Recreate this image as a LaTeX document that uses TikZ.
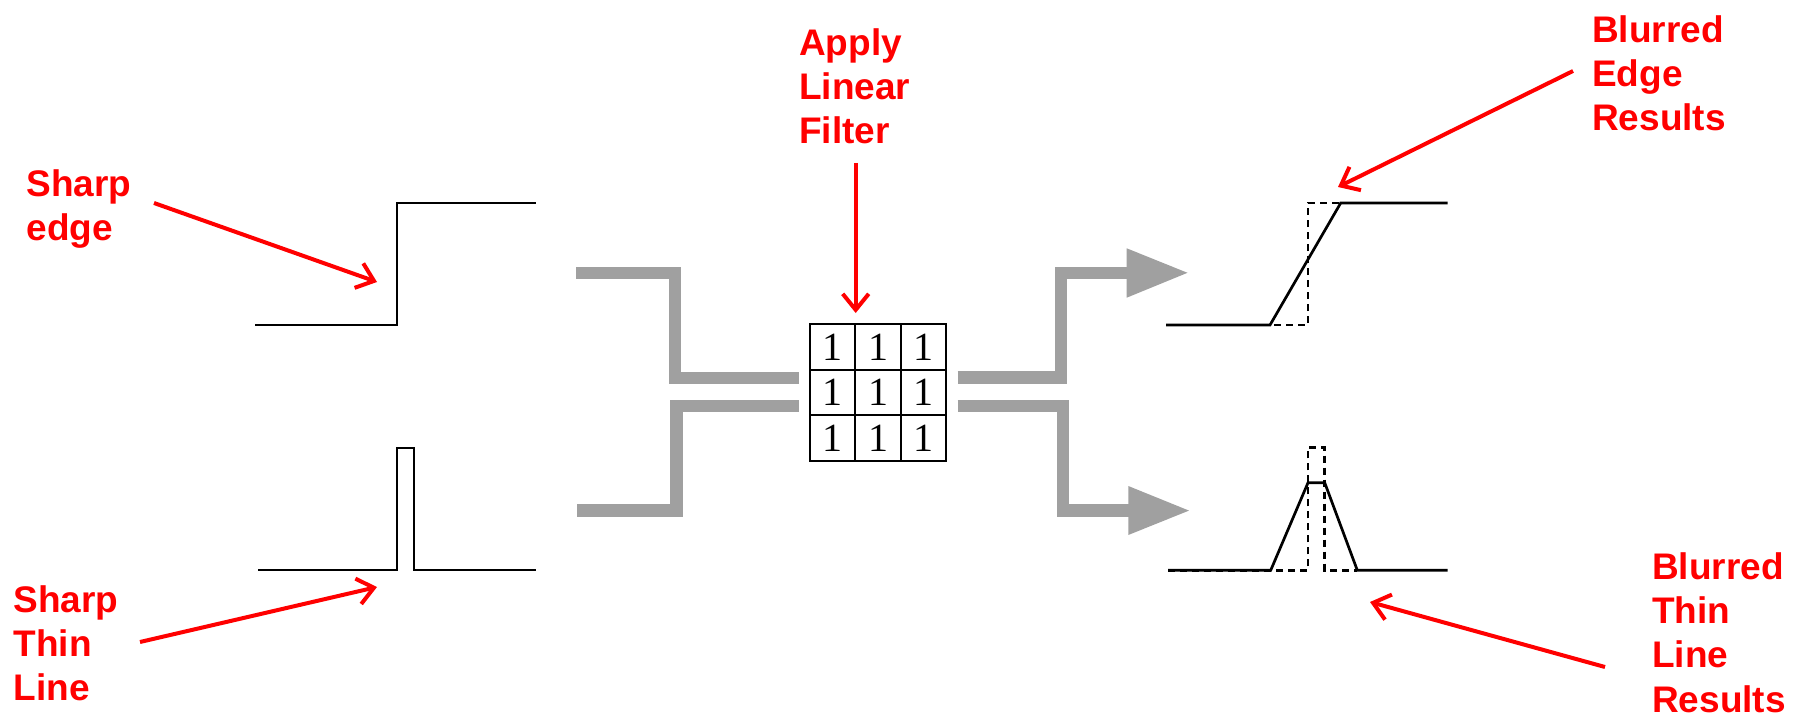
\documentclass[tikz,border=0pt]{standalone}
\usepackage{fontspec}
\setmainfont{Liberation Sans}
\newfontfamily\digitfont{Liberation Serif}
\usetikzlibrary{arrows.meta}
\definecolor{labelred}{RGB}{255,0,0}
\definecolor{bandgray}{RGB}{160,160,160}

\begin{document}
\begin{tikzpicture}[x=1pt,y=-1pt,
  label/.style={anchor=north west, inner sep=0pt, align=left, text=labelred,
    font=\bfseries\fontsize{37}{44.4}\selectfont},
  pointer/.style={draw=labelred, line width=4pt,
    -{Straight Barb[length=16pt,width=26pt]}},
  signal/.style={line width=2.7pt, line join=miter},
  ideal/.style={line width=2.7pt, dash pattern=on 7pt off 5pt},
  band/.style={draw=bandgray, line width=12.5pt, line join=miter},
  bandtip/.style={fill=bandgray},
  cell/.style={draw, line width=2pt, minimum width=45.3pt, minimum height=45.7pt,
    inner sep=0pt, font=\digitfont\fontsize{40}{40}\selectfont}
]
\useasboundingbox (0,0) rectangle (1804,714);

% ---- input signals ----
% step edge
\draw[signal] (255,325) -- (397,325) -- (397,203) -- (536,203);
% thin line (narrow pulse)
\draw[signal] (258,570) -- (397,570) -- (397,448) -- (414,448) -- (414,570) -- (536,570);

% ---- filter kernel ----
\foreach \i in {0,1,2}
  \foreach \j in {0,1,2}
    \node[cell] (k\i\j) at ({832.7+45.33*\i},{346.8+45.67*\j}) {1};

% ---- grey flow bands ----
\draw[band] (576,273) -- (675,273) -- (675,378) -- (799.2,378);
\draw[band] (577.4,510.5) -- (676.5,510.5) -- (676.5,405.8) -- (799.2,405.8);
\draw[band] (957.5,377.5) -- (1061,377.5) -- (1061,273) -- (1128,273);
\fill[bandtip] (1126.7,248.3) -- (1187.5,272.8) -- (1126.7,297.7) -- cycle;
\draw[band] (957.5,405.8) -- (1063,405.8) -- (1063,510.4) -- (1130,510.4);
\fill[bandtip] (1128.3,486) -- (1189,510.6) -- (1128.3,535) -- cycle;

% ---- output signals ----
% blurred edge with the ideal step dashed
\draw[ideal] (1166,325) -- (1308,325) -- (1308,203) -- (1341,203);
\draw[signal] (1166,325) -- (1270,325) -- (1340.7,203) -- (1447.7,203);
% blurred thin line with the ideal pulse dashed
\draw[ideal] (1168,570.3) -- (1308,570.3) -- (1308,447.3) -- (1324.7,447.3)
  -- (1324.7,570.3) -- (1357.3,570.3);
\draw[signal] (1168,570.3) -- (1270.7,570.3) -- (1308,482.7) -- (1324.7,482.7)
  -- (1357.3,570.3) -- (1447.7,570.3);

% ---- labels ----
\node[label] (sharpedge) at (26.5,169) {Sharp\\edge};
\node[label] (sharpthin) at (13.5,585) {Sharp\\Thin\\Line};
\node[label] (filter) at (799,28) {Apply\\Linear\\Filter};
\node[label] (bluredge) at (1592,15) {Blurred\\Edge\\Results};
\node[label] (blurthin) at (1652,552) {Blurred\\Thin\\Line\\Results};

% ---- pointer arrows ----
\coordinate (sharpedge-tail) at (154,203);
\coordinate (sharpedge-tip) at (377,282);
\coordinate (sharpthin-tail) at (140,642);
\coordinate (sharpthin-tip) at (377,587);
\coordinate (filter-tail) at (855.7,163);
\coordinate (filter-tip) at (855.7,313);
\coordinate (bluredge-tail) at (1573,71);
\coordinate (bluredge-tip) at (1338,187);
\coordinate (blurthin-tail) at (1605,667);
\coordinate (blurthin-tip) at (1370,602);

\draw[pointer] (sharpedge-tail) -- (sharpedge-tip);
\draw[pointer] (sharpthin-tail) -- (sharpthin-tip);
\draw[pointer] (filter-tail) -- (filter-tip);
\draw[pointer] (bluredge-tail) -- (bluredge-tip);
\draw[pointer] (blurthin-tail) -- (blurthin-tip);
\end{tikzpicture}
\end{document}
